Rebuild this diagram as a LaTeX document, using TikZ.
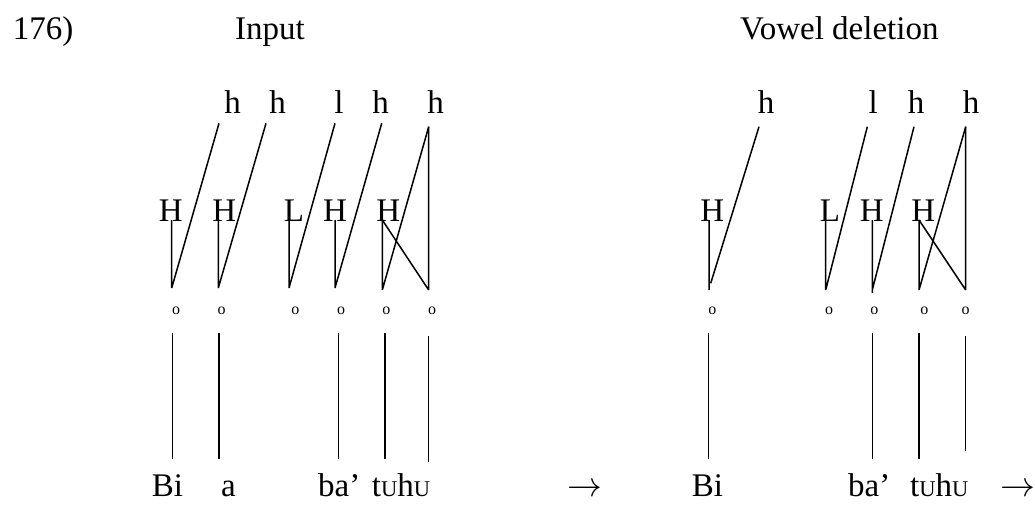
\documentclass[tikz,border=0pt]{standalone}
\usepackage{fontspec}
\setmainfont{Liberation Serif}
\tikzset{
  txt/.style={inner sep=0pt, anchor=base, font=\fontsize{33}{40}\selectfont},
  txtw/.style={inner sep=0pt, anchor=base west, font=\fontsize{33}{40}\selectfont},
  arrw/.style={inner sep=0pt, anchor=base, font=\fontsize{24.88}{30}\selectfont},
  dot/.style={inner sep=0pt, anchor=center, font=\fontsize{16}{18}\selectfont},
  ln/.style={line width=1.5pt, line cap=butt},
}
\newcommand{\smU}{{\fontsize{22.5}{24}\selectfont U}}
\newcommand{\bigarrow}{\scalebox{1.4}{$\rightarrow$}}
\begin{document}
\begin{tikzpicture}[x=1pt,y=-1pt]
\useasboundingbox (0,0) rectangle (1035,511);
% titles
\node[txtw] (num) at (12.7,39.5) {176)};
\node[txtw] (tin) at (235,39.5) {Input};
\node[txtw] (tvd) at (740,39.5) {Vowel deletion};

% ---------- left: Input ----------
\node[txt] (lh1) at (232.5,113.3) {h};
\node[txt] (lh2) at (277.5,113.3) {h};
\node[txt] (lh3) at (339,113.3) {l};
\node[txt] (lh4) at (380.7,113.3) {h};
\node[txt] (lh5) at (435.7,113.3) {h};
\node[txt] (lH1) at (170.7,221.7) {H};
\node[txt] (lH2) at (224.3,221.7) {H};
\node[txt] (lH3) at (294,221.7) {L};
\node[txt] (lH4) at (335,221.7) {H};
\node[txt] (lH5) at (388.3,221.7) {H};
% line ends
\coordinate (la1t) at (219,123.3);
\coordinate (la2t) at (266,123.3);
\coordinate (la3t) at (335,123.3);
\coordinate (la4t) at (381.7,123.3);
\coordinate (la5t) at (428.7,126.7);
\coordinate (lv1t) at (171.7,220);
\coordinate (lv2t) at (218.3,220);
\coordinate (lv3t) at (289,220);
\coordinate (lv4t) at (335,220);
\coordinate (lv5t) at (382.3,220);
\coordinate (lb1) at (171.7,288);
\coordinate (lb2) at (218.3,288);
\coordinate (lb3) at (289,288);
\coordinate (lb4) at (335,288);
\coordinate (lb5) at (382.3,290);
\coordinate (lb6) at (428.7,290);
\draw[ln] (la1t) -- (lb1) (lv1t) -- (lb1);
\draw[ln] (la2t) -- (lb2) (lv2t) -- (lb2);
\draw[ln] (la3t) -- (lb3) (lv3t) -- (lb3);
\draw[ln] (la4t) -- (lb4) (lv4t) -- (lb4);
\draw[ln] (la5t) -- (lb5) (lv5t) -- (lb5);
\draw[ln] (la5t) -- (lb6) (lv5t) -- (lb6);
% syllable markers
\node[dot] (lo1) at (176,311) {o};
\node[dot] (lo2) at (221.7,311) {o};
\node[dot] (lo3) at (295.3,311) {o};
\node[dot] (lo4) at (341,311) {o};
\node[dot] (lo5) at (386.3,311) {o};
\node[dot] (lo6) at (432,311) {o};
% lower lines
\coordinate (lu1t) at (172.3,333.3); \coordinate (lu1b) at (172.3,459);
\coordinate (lu2t) at (219,333.3);   \coordinate (lu2b) at (219,459);
\coordinate (lu3t) at (338.3,333.3); \coordinate (lu3b) at (338.3,459);
\coordinate (lu4t) at (385,333.3);   \coordinate (lu4b) at (385,459);
\coordinate (lu5t) at (428.7,336);   \coordinate (lu5b) at (428.7,461.7);
\draw[ln] (lu1t) -- (lu1b) (lu2t) -- (lu2b) (lu3t) -- (lu3b) (lu4t) -- (lu4b) (lu5t) -- (lu5b);
% words
\node[txtw] (lw1) at (151.7,496) {Bi};
\node[txtw] (lw2) at (221,496) {a};
\node[txtw] (lw3) at (318,496) {ba’};
\node[txtw] (lw4) at (371.7,496) {t\smU h\smU};
\node[arrw] (arr1) at (584.5,496) {\bigarrow};

% ---------- right: Vowel deletion ----------
\node[txt] (rh1) at (766,113.3) {h};
\node[txt] (rh3) at (873.3,113.3) {l};
\node[txt] (rh4) at (916,113.3) {h};
\node[txt] (rh5) at (971,113.3) {h};
\node[txt] (rH1) at (712.3,221.7) {H};
\node[txt] (rH3) at (830,221.7) {L};
\node[txt] (rH4) at (871.7,221.7) {H};
\node[txt] (rH5) at (923.3,221.7) {H};
\coordinate (ra1t) at (759,126.7);
\coordinate (ra3t) at (867.3,126.7);
\coordinate (ra4t) at (914,126.7);
\coordinate (ra5t) at (965.7,126.7);
\coordinate (rv1t) at (709,220);
\coordinate (rv3t) at (825.7,220);
\coordinate (rv4t) at (872.3,220);
\coordinate (rv5t) at (919,220);
\coordinate (rb1a) at (710.7,283.3);
\coordinate (rb1) at (709,290);
\coordinate (rb3) at (825.7,290);
\coordinate (rb4) at (872.3,290);
\coordinate (rb4v) at (872.3,293);
\coordinate (rb5) at (919,290);
\coordinate (rb6) at (965.7,290);
\draw[ln] (ra1t) -- (rb1a) (rv1t) -- (rb1);
\draw[ln] (ra3t) -- (rb3) (rv3t) -- (rb3);
\draw[ln] (ra4t) -- (rb4) (rv4t) -- (rb4v);
\draw[ln] (ra5t) -- (rb5) (rv5t) -- (rb5);
\draw[ln] (ra5t) -- (rb6) (rv5t) -- (rb6);
\node[dot] (ro1) at (712.3,311) {o};
\node[dot] (ro3) at (829,311) {o};
\node[dot] (ro4) at (874.3,311) {o};
\node[dot] (ro5) at (924.3,311) {o};
\node[dot] (ro6) at (965.7,311) {o};
\coordinate (ru1t) at (708.3,333.3); \coordinate (ru1b) at (708.3,459);
\coordinate (ru3t) at (872.3,333.3); \coordinate (ru3b) at (872.3,459);
\coordinate (ru4t) at (919,333.3);   \coordinate (ru4b) at (919,459);
\coordinate (ru5t) at (965.7,336);   \coordinate (ru5b) at (965.7,450.7);
\draw[ln] (ru1t) -- (ru1b) (ru3t) -- (ru3b) (ru4t) -- (ru4b) (ru5t) -- (ru5b);
\node[txtw] (rw1) at (691.7,496) {Bi};
\node[txtw] (rw3) at (848,496) {ba’};
\node[txtw] (rw4) at (910,496) {t\smU h\smU};
\node[arrw] (arr2) at (1018,496) {\bigarrow};
\end{tikzpicture}
\end{document}
